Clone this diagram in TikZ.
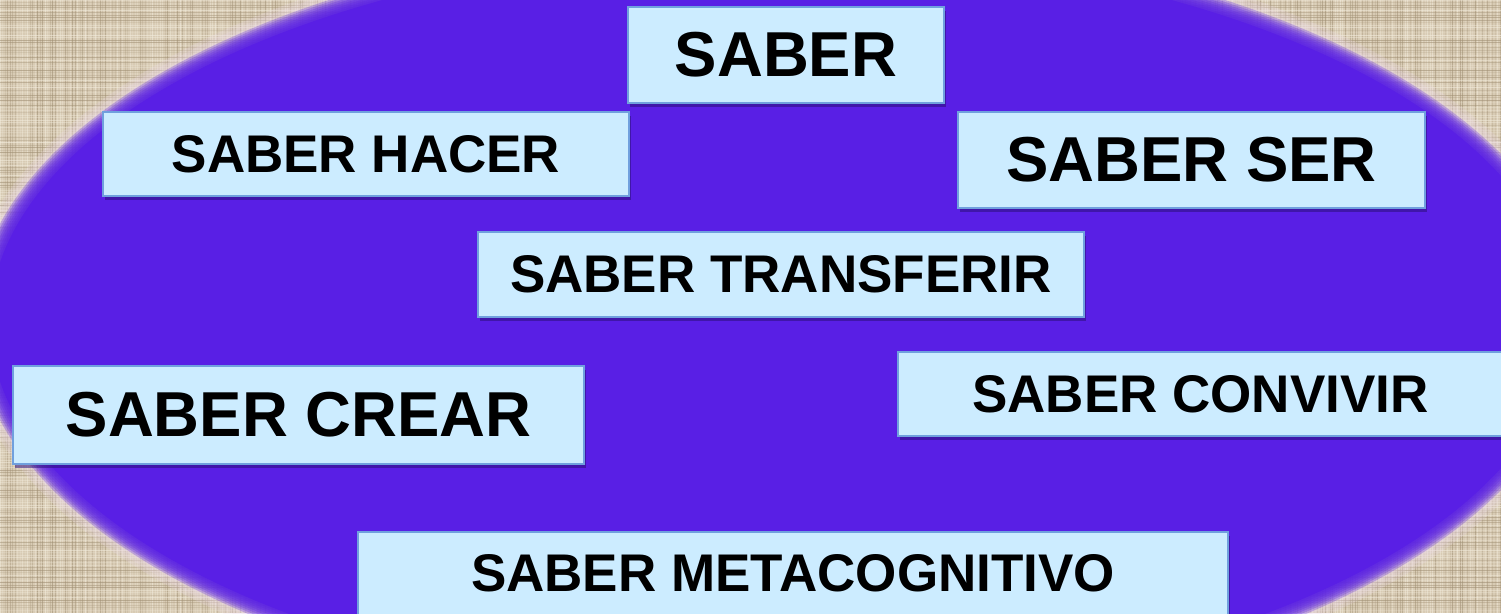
\documentclass[tikz,border=0pt]{standalone}
\usepackage{fontspec}
\setmainfont{Liberation Sans}
\usetikzlibrary{shadows}
\definecolor{bgbase}{RGB}{216,203,180}
\definecolor{bgdark}{RGB}{160,143,115}
\definecolor{bglight}{RGB}{243,237,222}
\definecolor{purp}{RGB}{89,31,229}
\definecolor{halo}{RGB}{235,215,235}
\definecolor{boxfill}{RGB}{204,236,255}
\definecolor{boxedge}{RGB}{112,160,222}
\definecolor{shadowcol}{RGB}{45,15,120}
\tikzset{
  lbox/.style={draw=boxedge, line width=1.6pt, fill=boxfill, inner sep=0pt,
    rectangle, text=black, align=center,
    drop shadow={shadow xshift=2pt, shadow yshift=-4pt, fill=shadowcol, opacity=0.55}},
  txtA/.style={font=\fontsize{53}{60}\selectfont\bfseries},
  txtB/.style={font=\fontsize{63.5}{70}\selectfont\bfseries},
}
\begin{document}
\begin{tikzpicture}[x=1pt,y=-1pt]
\useasboundingbox (0,0) rectangle (1501,613);
% linen background
\fill[bgbase] (0,0) rectangle (1501,613);
\pgfmathsetseed{7}
\foreach \x in {0,2.5,...,1500}{
  \pgfmathsetmacro{\op}{0.15+0.45*rnd}
  \pgfmathsetmacro{\ch}{rnd}
  \ifdim\ch pt>0.5pt
    \draw[bgdark, line width=0.9pt, opacity=\op] (\x,0) -- (\x,613);
  \else
    \draw[bglight, line width=0.9pt, opacity=\op] (\x,0) -- (\x,613);
  \fi
}
\foreach \y in {0,2.5,...,612}{
  \pgfmathsetmacro{\op}{0.15+0.45*rnd}
  \pgfmathsetmacro{\ch}{rnd}
  \ifdim\ch pt>0.5pt
    \draw[bgdark, line width=0.9pt, opacity=\op] (0,\y) -- (1501,\y);
  \else
    \draw[bglight, line width=0.9pt, opacity=\op] (0,\y) -- (1501,\y);
  \fi
}
% soft-edged purple ellipse
\coordinate (c) at (777,322);
\foreach \d in {18,14,10}{
  \fill[halo, opacity=0.2] (c) ellipse [x radius=795+\d, y radius=380+\d];
}
\foreach \d in {8,6,4,2,0,-2,-4,-6}{
  \fill[purp, opacity=0.28] (c) ellipse [x radius=795+\d, y radius=380+\d];
}
\fill[purp] (c) ellipse [x radius=787, y radius=372];
% boxes
\node[lbox, txtB, minimum width=316pt, minimum height=96pt] (saber) at (786,55) {SABER};
\node[lbox, txtA, minimum width=526pt, minimum height=84pt] (hacer) at (366,154) {SABER HACER};
\node[lbox, txtB, minimum width=467pt, minimum height=96pt] (ser) at (1191.5,160) {SABER SER};
\node[lbox, txtA, minimum width=606pt, minimum height=85pt] (transferir) at (781,274.5) {SABER TRANSFERIR};
\node[lbox, txtB, minimum width=571pt, minimum height=98pt] (crear) at (298.5,415) {SABER CREAR};
\node[lbox, txtA, minimum width=605pt, minimum height=84pt] (convivir) at (1200.5,394) {SABER CONVIVIR};
\node[lbox, txtA, minimum width=870pt, minimum height=83pt] (meta) at (793,573.5) {SABER METACOGNITIVO};
\end{tikzpicture}
\end{document}
